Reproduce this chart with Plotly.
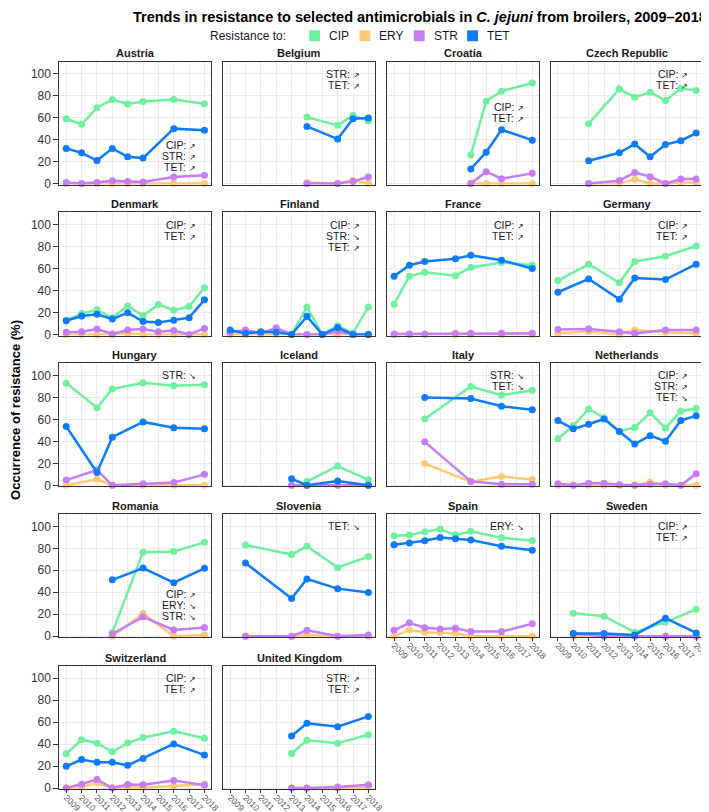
import plotly.graph_objects as go

# ---------------- data ----------------
SERIES = ["CIP", "ERY", "STR", "TET"]
COLORS = {"CIP": "#6DF19D", "ERY": "#FFC874", "STR": "#C77CFA", "TET": "#0D7BFF"}
YEARS_ALL = [2009, 2010, 2011, 2012, 2013, 2014, 2015, 2016, 2017, 2018]
Y_TICKS = [0, 20, 40, 60, 80, 100]

AUSTRIA_YEARS = [2009, 2010, 2011, 2012, 2013, 2014, 2016, 2018]
AUSTRIA_CIP = [59, 54, 69, 76.5, 72.5, 74.7, 76.5, 72.6]
AUSTRIA_ERY = [0, 0, 0, 0, 0, 0, 0, 0]
AUSTRIA_STR = [1, 0, 1, 2.5, 2, 1.5, 6, 7.5]
AUSTRIA_TET = [32, 28, 21, 32, 24.4, 23.2, 50, 48.5]
AUSTRIA_TRENDS = [("CIP", "up"), ("STR", "up"), ("TET", "up")]

BELGIUM_YEARS = [2014, 2016, 2017, 2018]
BELGIUM_CIP = [60.5, 53, 62, 57]
BELGIUM_ERY = [1, 0, 3, 0]
BELGIUM_STR = [0, 0, 2, 6]
BELGIUM_TET = [52, 40.5, 59, 59.6]
BELGIUM_TRENDS = [("STR", "up"), ("TET", "up")]

CROATIA_YEARS = [2014, 2015, 2016, 2018]
CROATIA_CIP = [26, 75, 84, 91.6]
CROATIA_ERY = [0, 0, 0, 0]
CROATIA_STR = [0, 10.8, 4.5, 9.3]
CROATIA_TET = [13.3, 28.6, 49, 39.5]
CROATIA_TRENDS = [("CIP", "up"), ("TET", "up")]

CZECH_YEARS = [2011, 2013, 2014, 2015, 2016, 2017, 2018]
CZECH_CIP = [54.5, 86, 78.6, 83, 75.6, 86.5, 84.6]
CZECH_ERY = [0, 0, 4, 0, 0, 1, 1]
CZECH_STR = [0, 2.7, 10, 6.3, 0, 4.2, 4.2]
CZECH_TET = [20.8, 28, 36, 24.4, 35.5, 39, 46]
CZECH_TRENDS = [("CIP", "up"), ("TET", "up")]

DENMARK_YEARS = [2009, 2010, 2011, 2012, 2013, 2014, 2015, 2016, 2017, 2018]
DENMARK_CIP = [13, 19, 22.5, 15, 26, 17, 27.3, 22, 25.5, 42.6]
DENMARK_ERY = [0, 0, 0, 0, 1, 0, 0, 0, 0, 0]
DENMARK_STR = [2, 2.5, 5, 0.5, 4, 5, 2.5, 3.5, 0, 5.5]
DENMARK_TET = [12.5, 16.8, 18.3, 14, 19.8, 11.7, 10.8, 12.9, 15.3, 31.5]
DENMARK_TRENDS = [("CIP", "up"), ("TET", "up")]

FINLAND_YEARS = [2009, 2010, 2011, 2012, 2013, 2014, 2015, 2016, 2017, 2018]
FINLAND_CIP = [2.5, 1, 2, 3.5, 0, 25, 0, 8, 1, 25]
FINLAND_ERY = [0, 0, 0, 0, 0, 0, 0, 0, 0, 0]
FINLAND_STR = [2, 4, 1, 6, 0, 0, 0, 3, 0, 0]
FINLAND_TET = [4, 1, 2.4, 2, 0, 16.5, 0, 6.3, 0, 0]
FINLAND_TRENDS = [("CIP", "up"), ("STR", "down"), ("TET", "up")]

FRANCE_YEARS = [2009, 2010, 2011, 2013, 2014, 2016, 2018]
FRANCE_CIP = [27.6, 53, 56.5, 53.5, 61, 65.5, 63]
FRANCE_ERY = [0, 0, 0, 0, 0, 0, 0]
FRANCE_STR = [0.5, 0.5, 0.5, 1, 1, 1, 1]
FRANCE_TET = [52.9, 63, 66.4, 69, 72, 67.6, 60]
FRANCE_TRENDS = [("CIP", "up"), ("TET", "up")]

GERMANY_YEARS = [2009, 2011, 2013, 2014, 2016, 2018]
GERMANY_CIP = [49, 64, 47, 66.4, 71.2, 80.5]
GERMANY_ERY = [1, 3, 0, 4, 2, 1]
GERMANY_STR = [4.5, 5, 2.5, 1, 4, 4]
GERMANY_TET = [38.4, 50.5, 32, 51.3, 50, 64]
GERMANY_TRENDS = [("CIP", "up"), ("TET", "up")]

HUNGARY_YEARS = [2009, 2011, 2012, 2014, 2016, 2018]
HUNGARY_CIP = [93, 70.6, 87.7, 93.4, 90.7, 91.6]
HUNGARY_ERY = [0, 5.5, 0, 0, 0, 0]
HUNGARY_STR = [4.8, 14, 0, 1.5, 2.5, 10]
HUNGARY_TET = [53.5, 11.7, 43.8, 57.7, 52.5, 51.6]
HUNGARY_TRENDS = [("STR", "down")]

ICELAND_YEARS = [2013, 2014, 2016, 2018]
ICELAND_CIP = [None, 3.5, 17.5, 5]
ICELAND_ERY = [0, 0, 0, 0]
ICELAND_STR = [0, 0, 0, 0]
ICELAND_TET = [6, 0, 4, 0]
ICELAND_TRENDS = []

ITALY_YEARS = [2011, 2014, 2016, 2018]
ITALY_CIP = [60.4, 90, 82, 86.5]
ITALY_ERY = [19.8, 3.3, 8, 5.4]
ITALY_STR = [39.6, 3.6, 1, 1]
ITALY_TET = [80, 79, 72, 68.8]
ITALY_TRENDS = [("STR", "down"), ("TET", "down")]

NETHERLANDS_YEARS = [2009, 2010, 2011, 2012, 2013, 2014, 2015, 2016, 2017, 2018]
NETHERLANDS_CIP = [42.3, 54.4, 69.5, 61.3, 49, 52.7, 66, 52, 67.5, 70]
NETHERLANDS_ERY = [0, 0, 0, 0, 0, 0, 3, 0, 0, 0]
NETHERLANDS_STR = [1.5, 0, 2, 2, 0.5, 0, 1, 1.5, 0, 10.5]
NETHERLANDS_TET = [58.9, 51.4, 55.6, 60.4, 49, 37.6, 45.2, 40.2, 58.9, 63.4]
NETHERLANDS_TRENDS = [("CIP", "up"), ("STR", "up"), ("TET", "down")]

ROMANIA_YEARS = [2012, 2014, 2016, 2018]
ROMANIA_CIP = [3.3, 76.4, 77, 85.4]
ROMANIA_ERY = [0, 20.6, 0, 1]
ROMANIA_STR = [2, 17.6, 5.7, 8]
ROMANIA_TET = [51.3, 62, 48.7, 61.8]
ROMANIA_TRENDS = [("CIP", "up"), ("ERY", "down"), ("STR", "down")]

SLOVENIA_YEARS = [2010, 2013, 2014, 2016, 2018]
SLOVENIA_CIP = [83, 74.3, 81.8, 62.4, 72.5]
SLOVENIA_ERY = [0, 0, 1, 0, 0]
SLOVENIA_STR = [0, 0, 5.4, 0, 1]
SLOVENIA_TET = [66.6, 34.3, 52, 43.3, 39.7]
SLOVENIA_TRENDS = [("TET", "down")]

SPAIN_YEARS = [2009, 2010, 2011, 2012, 2013, 2014, 2016, 2018]
SPAIN_CIP = [91.5, 92, 95, 97.5, 92, 95.5, 89.5, 87]
SPAIN_ERY = [0, 5.7, 3.6, 3.3, 2.7, 0, 0, 0]
SPAIN_STR = [5.4, 12.2, 7.8, 6.6, 7.2, 4.2, 4.2, 11.3]
SPAIN_TET = [83.3, 84.8, 86.9, 89.9, 88.7, 87.5, 81.8, 78.2]
SPAIN_TRENDS = [("ERY", "down")]

SWEDEN_YEARS = [2010, 2012, 2014, 2016, 2018]
SWEDEN_CIP = [20.9, 18.2, 3.6, 12.8, 24.5]
SWEDEN_ERY = [0, 0, 0, 0, 0]
SWEDEN_STR = [2.5, 0, 0, 0, 0]
SWEDEN_TET = [2.4, 2.4, 1.2, 16.4, 3]
SWEDEN_TRENDS = [("CIP", "up"), ("TET", "up")]

SWITZERLAND_YEARS = [2009, 2010, 2011, 2012, 2013, 2014, 2016, 2018]
SWITZERLAND_CIP = [31.2, 44, 40.8, 33, 41, 46, 51.7, 45.3]
SWITZERLAND_ERY = [0, 1, 4.8, 0, 1, 0.5, 2, 3.6]
SWITZERLAND_STR = [0, 3.6, 7.8, 0, 3.3, 3, 6.9, 2.7]
SWITZERLAND_TET = [19.8, 26, 23.4, 23.4, 20.7, 27, 40.2, 30]
SWITZERLAND_TRENDS = [("CIP", "up"), ("TET", "up")]

UK_YEARS = [2013, 2014, 2016, 2018]
UK_CIP = [31.5, 43.5, 40.8, 48.6]
UK_ERY = [0, 0, 0, 1]
UK_STR = [0, 0, 1, 3]
UK_TET = [47.4, 58.9, 55.9, 65.2]
UK_TRENDS = [("STR", "up"), ("TET", "up")]

COUNTRIES = [
    ("Austria", AUSTRIA_YEARS, AUSTRIA_CIP, AUSTRIA_ERY, AUSTRIA_STR, AUSTRIA_TET, AUSTRIA_TRENDS),
    ("Belgium", BELGIUM_YEARS, BELGIUM_CIP, BELGIUM_ERY, BELGIUM_STR, BELGIUM_TET, BELGIUM_TRENDS),
    ("Croatia", CROATIA_YEARS, CROATIA_CIP, CROATIA_ERY, CROATIA_STR, CROATIA_TET, CROATIA_TRENDS),
    ("Czech Republic", CZECH_YEARS, CZECH_CIP, CZECH_ERY, CZECH_STR, CZECH_TET, CZECH_TRENDS),
    ("Denmark", DENMARK_YEARS, DENMARK_CIP, DENMARK_ERY, DENMARK_STR, DENMARK_TET, DENMARK_TRENDS),
    ("Finland", FINLAND_YEARS, FINLAND_CIP, FINLAND_ERY, FINLAND_STR, FINLAND_TET, FINLAND_TRENDS),
    ("France", FRANCE_YEARS, FRANCE_CIP, FRANCE_ERY, FRANCE_STR, FRANCE_TET, FRANCE_TRENDS),
    ("Germany", GERMANY_YEARS, GERMANY_CIP, GERMANY_ERY, GERMANY_STR, GERMANY_TET, GERMANY_TRENDS),
    ("Hungary", HUNGARY_YEARS, HUNGARY_CIP, HUNGARY_ERY, HUNGARY_STR, HUNGARY_TET, HUNGARY_TRENDS),
    ("Iceland", ICELAND_YEARS, ICELAND_CIP, ICELAND_ERY, ICELAND_STR, ICELAND_TET, ICELAND_TRENDS),
    ("Italy", ITALY_YEARS, ITALY_CIP, ITALY_ERY, ITALY_STR, ITALY_TET, ITALY_TRENDS),
    ("Netherlands", NETHERLANDS_YEARS, NETHERLANDS_CIP, NETHERLANDS_ERY, NETHERLANDS_STR, NETHERLANDS_TET, NETHERLANDS_TRENDS),
    ("Romania", ROMANIA_YEARS, ROMANIA_CIP, ROMANIA_ERY, ROMANIA_STR, ROMANIA_TET, ROMANIA_TRENDS),
    ("Slovenia", SLOVENIA_YEARS, SLOVENIA_CIP, SLOVENIA_ERY, SLOVENIA_STR, SLOVENIA_TET, SLOVENIA_TRENDS),
    ("Spain", SPAIN_YEARS, SPAIN_CIP, SPAIN_ERY, SPAIN_STR, SPAIN_TET, SPAIN_TRENDS),
    ("Sweden", SWEDEN_YEARS, SWEDEN_CIP, SWEDEN_ERY, SWEDEN_STR, SWEDEN_TET, SWEDEN_TRENDS),
    ("Switzerland", SWITZERLAND_YEARS, SWITZERLAND_CIP, SWITZERLAND_ERY, SWITZERLAND_STR, SWITZERLAND_TET, SWITZERLAND_TRENDS),
    ("United Kingdom", UK_YEARS, UK_CIP, UK_ERY, UK_STR, UK_TET, UK_TRENDS),
]

# ---------------- layout (pixels) ----------------
W, H = 709, 812
COL_X = [(52, 206), (218, 372), (384, 538), (550, 704)]
ROW_Y = [(54, 178), (206, 330), (358, 482), (510, 634), (663, 787)]
XTICK_PANELS = {"Spain", "Sweden", "Switzerland", "United Kingdom"}
TREND_TOP = {"Austria": 35.5, "Croatia": 70, "Romania": 38}  # default 100
TREND_STEP = 10.0
FONT = "Liberation Sans, Arial, sans-serif"
ARROW = {"up": "\u2197", "down": "\u2198"}

fig = go.Figure()
annotations = []
shapes = []

for i, (name, years, cip, ery, stra, tet, trends) in enumerate(COUNTRIES):
    r, c = divmod(i, 4)
    n = "" if i == 0 else str(i + 1)
    x0, x1 = COL_X[c]
    y0, y1 = ROW_Y[r]
    has_x = name in XTICK_PANELS
    xa = dict(
        domain=[x0 / W, x1 / W], range=[2008.55, 2018.45], anchor="y" + n,
        tickvals=YEARS_ALL, ticktext=[str(y) for y in YEARS_ALL],
        showticklabels=has_x, ticks="outside" if has_x else "",
        ticklen=3, tickcolor="#333333", tickangle=45, ticklabelstandoff=-4,
        tickfont=dict(family=FONT, size=8.5, color="#555555"),
        showgrid=True, gridcolor="#EBEBEB", gridwidth=1, zeroline=False,
        showline=True, mirror=True, linecolor="#333333", linewidth=1, fixedrange=True,
    )
    ya = dict(
        domain=[1 - y1 / H, 1 - y0 / H], range=[-1, 111], anchor="x" + n,
        tickvals=Y_TICKS, showticklabels=(c == 0), ticks="outside" if c == 0 else "",
        ticklen=5, tickcolor="#333333",
        tickfont=dict(family=FONT, size=12, color="#333333"),
        showgrid=True, gridcolor="#EBEBEB", gridwidth=1, zeroline=False,
        showline=True, mirror=True, linecolor="#333333", linewidth=1, fixedrange=True,
    )
    fig.layout["xaxis" + n] = xa
    fig.layout["yaxis" + n] = ya

    for s, vals in zip(SERIES, [cip, ery, stra, tet]):
        fig.add_trace(go.Scatter(
            x=years, y=vals, mode="lines+markers", name=s,
            xaxis="x" + n, yaxis="y" + n, showlegend=False, cliponaxis=False,
            line=dict(color=COLORS[s], width=2.5),
            marker=dict(color=COLORS[s], size=7),
            connectgaps=False,
        ))

    # strip label
    annotations.append(dict(
        text="<b>%s</b>" % name, x=(x0 + x1) / 2 / W, y=1 - (y0 - 8.5) / H,
        xref="paper", yref="paper", xanchor="center", yanchor="middle",
        showarrow=False, font=dict(family=FONT, size=11, color="#1a1a1a"),
    ))
    top = TREND_TOP.get(name, 100)
    for k, (ab, d) in enumerate(trends):
        annotations.append(dict(
            text="%s: <span style='font-size:8px'>%s</span>" % (ab, ARROW[d]),
            x=2017.6, y=top - k * TREND_STEP, xref="x" + n, yref="y" + n,
            xanchor="right", yanchor="middle", showarrow=False,
            font=dict(family=FONT, size=10.5, color="#1a1a1a"),
        ))

# title
annotations.append(dict(
    text="<b>Trends in resistance to selected antimicrobials in <i>C. jejuni</i> from broilers, 2009\u20132018</b>",
    x=1.0, y=1.0, xref="paper", yref="paper", xanchor="right", yanchor="top",
    showarrow=False, borderpad=0, font=dict(family=FONT, size=14.5, color="#000000"),
))
# y axis title
annotations.append(dict(
    text="<b>Occurrence of resistance (%)</b>", textangle=-90,
    x=7 / W, y=1 - 405 / H, xref="paper", yref="paper", xanchor="center", yanchor="middle",
    showarrow=False, font=dict(family=FONT, size=13, color="#000000"),
))
# legend (manual keys)
LEG_Y = 28
annotations.append(dict(
    text="Resistance to:", x=203 / W, y=1 - LEG_Y / H, xref="paper", yref="paper",
    xanchor="left", yanchor="middle", showarrow=False,
    font=dict(family=FONT, size=12, color="#1a1a1a"),
))
LEG_KEY_X = [305, 356, 411, 465]
for s, kx in zip(SERIES, LEG_KEY_X):
    shapes.append(dict(
        type="rect", xref="paper", yref="paper",
        x0=kx / W, x1=(kx + 11) / W, y0=1 - (LEG_Y + 5.5) / H, y1=1 - (LEG_Y - 5.5) / H,
        fillcolor=COLORS[s], line=dict(width=0),
    ))
    annotations.append(dict(
        text=s, x=(kx + 18) / W, y=1 - LEG_Y / H, xref="paper", yref="paper",
        xanchor="left", yanchor="middle", showarrow=False,
        font=dict(family=FONT, size=12, color="#1a1a1a"),
    ))

fig.update_layout(
    width=W, height=H, margin=dict(l=0, r=0, t=0, b=0),
    paper_bgcolor="white", plot_bgcolor="white",
    annotations=annotations, shapes=shapes, showlegend=False,
    font=dict(family=FONT),
)

fig.write_html("out.html", config={"displayModeBar": False})
